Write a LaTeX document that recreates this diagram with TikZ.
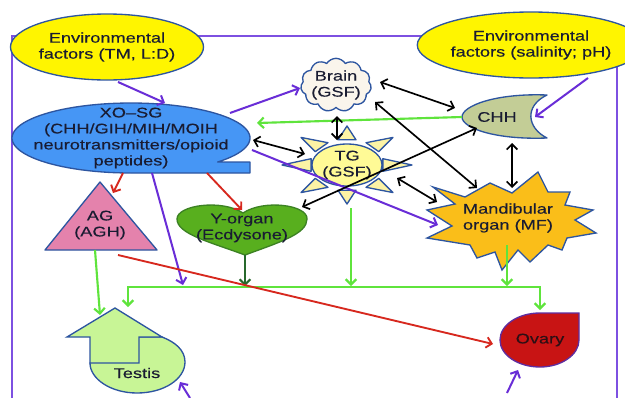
\documentclass[tikz,border=0pt]{standalone}
\usepackage{fontspec}
\setmainfont{Liberation Sans}[FakeStretch=1.3,FakeBold=0.3]
\usetikzlibrary{arrows.meta,shapes.geometric,shapes.symbols,calc}
\definecolor{outl}{RGB}{45,85,160}
\definecolor{txtc}{RGB}{25,28,50}
\definecolor{framec}{RGB}{125,80,225}
\definecolor{purp}{RGB}{105,45,215}
\definecolor{grn}{RGB}{95,228,60}
\definecolor{dgrn}{RGB}{40,105,45}
\definecolor{redl}{RGB}{215,40,30}
\definecolor{yel}{RGB}{255,245,0}
\definecolor{xoc}{RGB}{70,150,245}
\definecolor{brainc}{RGB}{250,245,236}
\definecolor{chhc}{RGB}{195,205,150}
\definecolor{tgc}{RGB}{255,250,150}
\definecolor{rayc}{RGB}{252,243,165}
\definecolor{moc}{RGB}{250,190,25}
\definecolor{agc}{RGB}{228,130,172}
\definecolor{yoc}{RGB}{88,175,30}
\definecolor{yoo}{RGB}{60,130,35}
\definecolor{tesc}{RGB}{200,245,150}
\definecolor{ovc}{RGB}{200,20,20}
\definecolor{ovo}{RGB}{95,45,160}
\begin{document}
\begin{tikzpicture}[x=0.75pt,y=-0.75pt,
  >={Straight Barb[length=4pt,width=8pt]},
  lbl/.style={font=\fontsize{10.5}{12}\selectfont, text=txtc, align=center, inner sep=0pt},
  shp/.style={draw=outl, line width=1pt, line join=round},
  pa/.style={draw=purp, line width=1.5pt, ->},
  ga/.style={draw=grn, line width=1.6pt, ->},
  ra/.style={draw=redl, line width=1.4pt, ->},
  ka/.style={draw=black, line width=1.25pt, <->},
  da/.style={draw=dgrn, line width=1.5pt, ->}]
\useasboundingbox (0,0) rectangle (625,397);
\fill[white] (0,0) rectangle (625,397);
% frame
\draw[draw=framec, line width=1.6pt] (12,36) rectangle (617,410);
% environmental factors
\node[shp, ellipse, fill=yel, minimum width=142.5pt, minimum height=49.5pt, lbl] (envL) at (107,47) {Environmental\\factors (TM, L:D)};
\node[shp, ellipse, fill=yel, minimum width=139.5pt, minimum height=49.5pt, lbl] (envR) at (531,45) {Environmental\\factors (salinity; pH)};
% XO-SG
\fill[xoc, draw=outl, line width=1pt, line join=round] (131,173) -- (250,173) -- (250,162) -- (218,162)
  -- plot[domain=43.3:-270, samples=90] ({131+119*cos(\x)},{138+35*sin(\x)}) -- cycle;
\node[lbl] (xo) at (131,138) {XO–SG\\(CHH/GIH/MIH/MOIH\\neurotransmitters/opioid\\peptides)};
% Brain
\node[shp, cloud, cloud puffs=11, cloud puff arc=115, cloud ignores aspect, fill=brainc, minimum width=53pt, minimum height=40pt, inner sep=0pt] (braincl) at (336,85) {};
\node[lbl] (brain) at (336,85) {Brain\\(GSF)};
% CHH
\fill[chhc, draw=outl, line width=1pt, line join=round] (547,95) .. controls (495,93) and (462,106) .. (462,117)
  .. controls (462,128) and (495,140) .. (547,138) .. controls (527,128) and (524,106) .. (547,95) -- cycle;
\node[lbl] (chh) at (497,117) {CHH};
% TG sun
\foreach \a in {0,45,...,315}{
  \draw[shp, fill=rayc] ({347+65*cos(\a)},{165+39*sin(\a)}) -- ({347+37*cos(\a+14)},{165+26*sin(\a+14)})
    -- ({347+37*cos(\a-14)},{165+26*sin(\a-14)}) -- cycle;
}
\node[shp, ellipse, fill=tgc, minimum width=43pt, minimum height=31.5pt, lbl] (tg) at (347,165) {TG\\(GSF)};
% Mandibular organ
\fill[moc, draw=outl, line width=1pt, line join=miter] (490,183) -- (512,193) -- (538,172) -- (548,192) -- (570,192)
  -- (565,205) -- (593,210) -- (575,220) -- (596,233) -- (567,238) -- (562,250) -- (548,245) -- (530,262)
  -- (518,250) -- (502,270) -- (495,252) -- (477,258) -- (470,245) -- (427,238) -- (452,226) -- (427,210)
  -- (455,204) -- (433,187) -- (465,197) -- cycle;
\node[lbl] (mo) at (508,218) {Mandibular\\organ (MF)};
% AG
\fill[agc, draw=outl, line width=1pt, line join=round] (100,182) -- (157,250) -- (45,250) -- cycle;
\node[lbl] (ag) at (100,225) {AG\\(AGH)};
% Y-organ
\fill[yoc, draw=yoo, line width=1pt] (245,255) .. controls (210,242) and (177,234) .. (177,219)
  .. controls (177,205) and (222,199) .. (243,213) .. controls (264,199) and (308,205) .. (307,219)
  .. controls (307,234) and (280,242) .. (245,255) -- cycle;
\node[lbl] (yo) at (242,228) {Y-organ\\(Ecdysone)};
% Testis
\fill[tesc, draw=outl, line width=1pt] (139,337) -- (162,337) .. controls (175,342) and (185,350) .. (185,362)
  .. controls (185,379) and (164,393) .. (137,393) .. controls (111,393) and (90,379) .. (90,363) -- cycle;
\fill[tesc, draw=outl, line width=1pt, line join=miter] (115,308) -- (162,337) -- (139,337) -- (139,363)
  -- (90,363) -- (90,337) -- (67,337) -- cycle;
\node[lbl] (testis) at (137,373) {Testis};
% Ovary
\fill[ovc, draw=ovo, line width=1pt] (540,313) -- (579,313) -- (579,340) .. controls (579,355) and (561,367) .. (540,367)
  .. controls (518,367) and (500,355) .. (500,340) .. controls (500,325) and (518,313) .. (540,313) -- cycle;
\node[lbl, text={rgb,255:red,45;green,15;blue,20}] (ovary) at (540,340) {Ovary};
% bus coordinates and free ends
\coordinate (busL) at (128,287);
\coordinate (busR) at (540,287);
\coordinate (tin) at (190,398);
\coordinate (oin) at (507,393);
% connectors
\draw[pa] ($(envL.center)+(11,35)$) -- ($(xo.center)+(34,-35)$);
\draw[pa] ($(envR.center)+(57,33)$) -- ($(chh.center)+(38,0)$);
\draw[pa] ($(xo.center)+(99,-25)$) -- ($(brain.center)+(-36,3)$);
\draw[ga] ($(chh.center)+(-35,0)$) -- ($(xo.center)+(126,-15)$);
\draw[ka] ($(xo.center)+(122,2)$) -- ($(tg.center)+(-42,-11)$);
\draw[pa] ($(xo.center)+(121,12)$) -- ($(mo.center)+(-70,7)$);
\draw[ka] ($(brain.center)+(1,31)$) -- ($(tg.center)+(-10,-25)$);
\draw[ka] ($(brain.center)+(44,-3)$) -- ($(chh.center)+(-42,-9)$);
\draw[ka] ($(brain.center)+(39,17)$) -- ($(mo.center)+(-31,-30)$);
\draw[ka] ($(chh.center)+(15,26)$) -- ($(mo.center)+(4,-30)$);
\draw[ka] ($(chh.center)+(-20,11)$) -- ($(yo.center)+(60,-21)$);
\draw[ka] ($(tg.center)+(50,13)$) -- ($(mo.center)+(-71,-16)$);
\draw[ra] ($(xo.center)+(-8,35)$) -- ($(ag.center)+(13,-32)$);
\draw[ra] ($(xo.center)+(76,35)$) -- ($(yo.center)+(0,-18)$);
\draw[pa] ($(xo.center)+(21,35)$) -- ($(busL)+(55,-2)$);
\draw[ga] ($(ag.center)+(-5,25)$) -- ($(testis.center)+(-37,-58)$);
\draw[da] ($(yo.center)+(3,27)$) -- ($(busL)+(117,-1)$);
\draw[ga,<->] ($(testis.center)+(-9,-66)$) |- (busR) -- ($(ovary.center)+(0,-30)$);
\draw[ga] ($(tg.center)+(4,43)$) -- ($(busL)+(223,-1)$);
\draw[ga] ($(mo.center)+(-1,27)$) -- ($(busL)+(379,-1)$);
\draw[ra] ($(ag.center)+(18,30)$) -- ($(ovary.center)+(-47,4)$);
\draw[pa] (tin) -- ($(testis.center)+(43,9)$);
\draw[pa] (oin) -- ($(ovary.center)+(-22,30)$);
\end{tikzpicture}
\end{document}
